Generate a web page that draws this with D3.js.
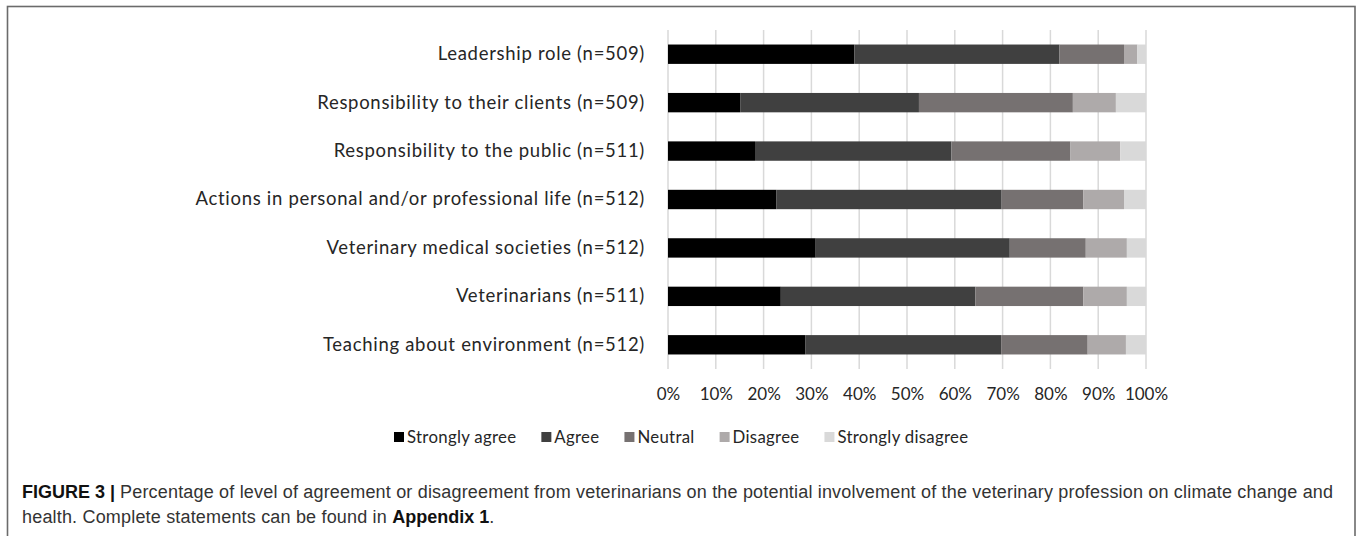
<!DOCTYPE html>
<html>
<head>
<meta charset="utf-8">
<script src="https://cdn.jsdelivr.net/npm/d3@7/dist/d3.min.js"></script>
<style>
  html, body { margin: 0; padding: 0; background: #fff; }
  svg { display: block; }
</style>
</head>
<body>
<svg id="fig" width="1358" height="536"></svg>
<script>
// Statements (top to bottom)
const categories = [
  "Leadership role (n=509)",
  "Responsibility to their clients (n=509)",
  "Responsibility to the public (n=511)",
  "Actions in personal and/or professional life (n=512)",
  "Veterinary medical societies (n=512)",
  "Veterinarians (n=511)",
  "Teaching about environment (n=512)"
];

// Response levels
const levels = ["Strongly agree", "Agree", "Neutral", "Disagree", "Strongly disagree"];

// Percentage of respondents per level, one array per level (same order as categories)
const stronglyAgree    = [39.0, 15.1, 18.2, 22.7, 30.9, 23.6, 28.7];
const agree            = [42.9, 37.4, 41.1, 47.1, 40.6, 40.7, 41.0];
const neutral          = [13.5, 32.2, 24.9, 17.1, 15.9, 22.6, 18.1];
const disagree         = [ 2.8,  9.0, 10.4,  8.5,  8.6,  9.1,  8.0];
const stronglyDisagree = [ 1.8,  6.3,  5.4,  4.6,  4.0,  4.0,  4.2];

const tickValues = [0, 10, 20, 30, 40, 50, 60, 70, 80, 90, 100];

const colors = ["#000000", "#404040", "#767171", "#aeaaaa", "#d9d9d9"];

const rows = categories.map((c, i) => ({
  category: c,
  "Strongly agree": stronglyAgree[i],
  "Agree": agree[i],
  "Neutral": neutral[i],
  "Disagree": disagree[i],
  "Strongly disagree": stronglyDisagree[i]
}));

const svg = d3.select("#fig");
const chartFont = "Lato, 'Open Sans', sans-serif";
const textColor = "#262626";

// Figure frame
svg.append("rect")
  .attr("x", 7.5).attr("y", 6.5)
  .attr("width", 1347.5).attr("height", 540)
  .attr("fill", "none")
  .attr("stroke", "#6b6b6b")
  .attr("stroke-width", 1.6);

const plot = { left: 668, right: 1146, top: 30, bottom: 369 };

const x = d3.scaleLinear().domain([0, 100]).range([plot.left, plot.right]);
const y = d3.scaleBand().domain(categories).range([plot.top, plot.bottom]).paddingInner(0.6).paddingOuter(0.3);

// Vertical gridlines
svg.append("g")
  .selectAll("line")
  .data(tickValues)
  .join("line")
  .attr("x1", d => x(d)).attr("x2", d => x(d))
  .attr("y1", plot.top).attr("y2", plot.bottom)
  .attr("stroke", "#d9d9d9")
  .attr("stroke-width", 1.5);

// Stacked bars
const stack = d3.stack().keys(levels);
const series = stack(rows);
const color = d3.scaleOrdinal().domain(levels).range(colors);

svg.append("g")
  .selectAll("g")
  .data(series)
  .join("g")
  .attr("fill", d => color(d.key))
  .selectAll("rect")
  .data(d => d)
  .join("rect")
  .attr("x", d => x(d[0]))
  .attr("width", d => x(d[1]) - x(d[0]))
  .attr("y", d => y(d.data.category))
  .attr("height", y.bandwidth());

// Category axis (labels only)
const yAxis = svg.append("g")
  .attr("transform", `translate(${plot.left - 23},0)`)
  .call(d3.axisLeft(y).tickSize(0).tickPadding(0));
yAxis.select(".domain").remove();
yAxis.selectAll("text")
  .attr("font-family", chartFont)
  .attr("font-size", 18.5)
  .attr("letter-spacing", 0.7)
  .attr("fill", textColor);

// Percentage axis (labels only)
const xAxis = svg.append("g")
  .attr("transform", `translate(0,${plot.bottom + 12})`)
  .call(d3.axisBottom(x).tickValues(tickValues).tickFormat(d => d + "%").tickSize(0).tickPadding(7));
xAxis.select(".domain").remove();
xAxis.selectAll("text")
  .attr("font-family", chartFont)
  .attr("font-size", 17)
  .attr("fill", textColor);

// Legend
const legend = svg.append("g").attr("transform", "translate(394,437)");
let lx = 0;
levels.forEach((lv, i) => {
  const g = legend.append("g").attr("transform", `translate(${lx},0)`);
  g.append("rect")
    .attr("x", 0).attr("y", -5)
    .attr("width", 10).attr("height", 10)
    .attr("fill", colors[i]);
  const t = g.append("text")
    .attr("x", 13).attr("y", 0)
    .attr("dy", "0.35em")
    .attr("font-family", chartFont)
    .attr("font-size", 16.8)
    .attr("letter-spacing", 0.3)
    .attr("fill", textColor)
    .text(lv);
  lx += 13 + t.node().getComputedTextLength() + 25;
});

// Caption
const capFont = "'Liberation Sans', Arial, sans-serif";
const cap1 = svg.append("text")
  .attr("x", 22).attr("y", 498)
  .attr("font-family", capFont)
  .attr("font-size", 18)
  .attr("fill", "#333");
cap1.append("tspan").attr("font-weight", "bold").attr("fill", "#111").text("FIGURE 3 | ");
cap1.append("tspan").attr("letter-spacing", 0.18)
  .text("Percentage of level of agreement or disagreement from veterinarians on the potential involvement of the veterinary profession on climate change and");

const cap2 = svg.append("text")
  .attr("x", 22).attr("y", 523)
  .attr("font-family", capFont)
  .attr("font-size", 18)
  .attr("fill", "#333");
cap2.append("tspan").attr("letter-spacing", 0.18).text("health. Complete statements can be found in ");
cap2.append("tspan").attr("font-weight", "bold").attr("fill", "#111").text("Appendix 1");
cap2.append("tspan").text(".");
</script>
</body>
</html>
